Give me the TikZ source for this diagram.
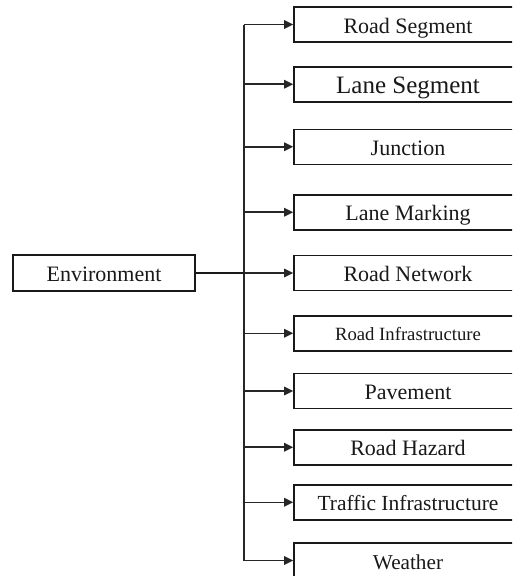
\documentclass[tikz,border=0pt]{standalone}
\usepackage{fontspec}
\setmainfont{Liberation Serif}
\usetikzlibrary{arrows.meta}
\newcommand{\fs}[1]{\fontsize{#1pt}{#1pt}\selectfont}
\tikzset{
  item/.style={draw=black!90, line width=1.6pt, minimum width=228pt, minimum height=35pt,
    inner sep=0pt, text=black!90, font=\fs{22}, text height=17pt, text depth=0pt},
  root/.style={item, minimum width=182pt, minimum height=35.5pt, text height=16pt},
  feed/.style={draw=black!85, line width=1.5pt, -{Triangle[length=9pt,width=8.5pt]}},
  spineline/.style={draw=black!85, line width=1.8pt},
  trunk/.style={draw=black!90, line width=2.4pt}
}
\begin{document}
\begin{tikzpicture}[x=1pt, y=-1pt]
  \useasboundingbox (0,0) rectangle (512,576);
  \clip (0,0) rectangle (512,576);
  \fill[white] (0,0) rectangle (512,576);

  % root node
  \node[root] (env) at (104,273) {Environment};

  % child nodes
  \node[item]                  (b1)  at (408,24.5)  {Road Segment};
  \node[item, font=\fs{25}, text height=18pt] (b2) at (408,84.2) {Lane Segment};
  \node[item]                  (b3)  at (408,146.8) {Junction};
  \node[item]                  (b4)  at (408,212.2) {Lane Marking};
  \node[item]                  (b5)  at (408,273)   {Road Network};
  \node[item, font=\fs{18.7}, text height=15pt] (b6) at (408,333.3) {Road Infrastructure};
  \node[item]                  (b7)  at (408,391)   {Pavement};
  \node[item]                  (b8)  at (408,447.2) {Road Hazard};
  \node[item, font=\fs{21.5}]  (b9)  at (408,502.3) {Traffic Infrastructure};
  \node[item, font=\fs{21.2}]  (b10) at (408,560.5) {Weather};

  % vertical distribution line
  \coordinate (spine) at (244.3,273);
  \draw[spineline] (spine |- b1.west) -- (spine |- b10.west);

  % trunk from the root to the distribution line
  \draw[trunk] (env.east) -- (spine);

  % branches into each child
  \foreach \b in {b1,b2,b3,b4,b5,b6,b7,b8,b9,b10}
    \draw[feed] (spine |- \b.west) -- (\b.west);
\end{tikzpicture}
\end{document}
